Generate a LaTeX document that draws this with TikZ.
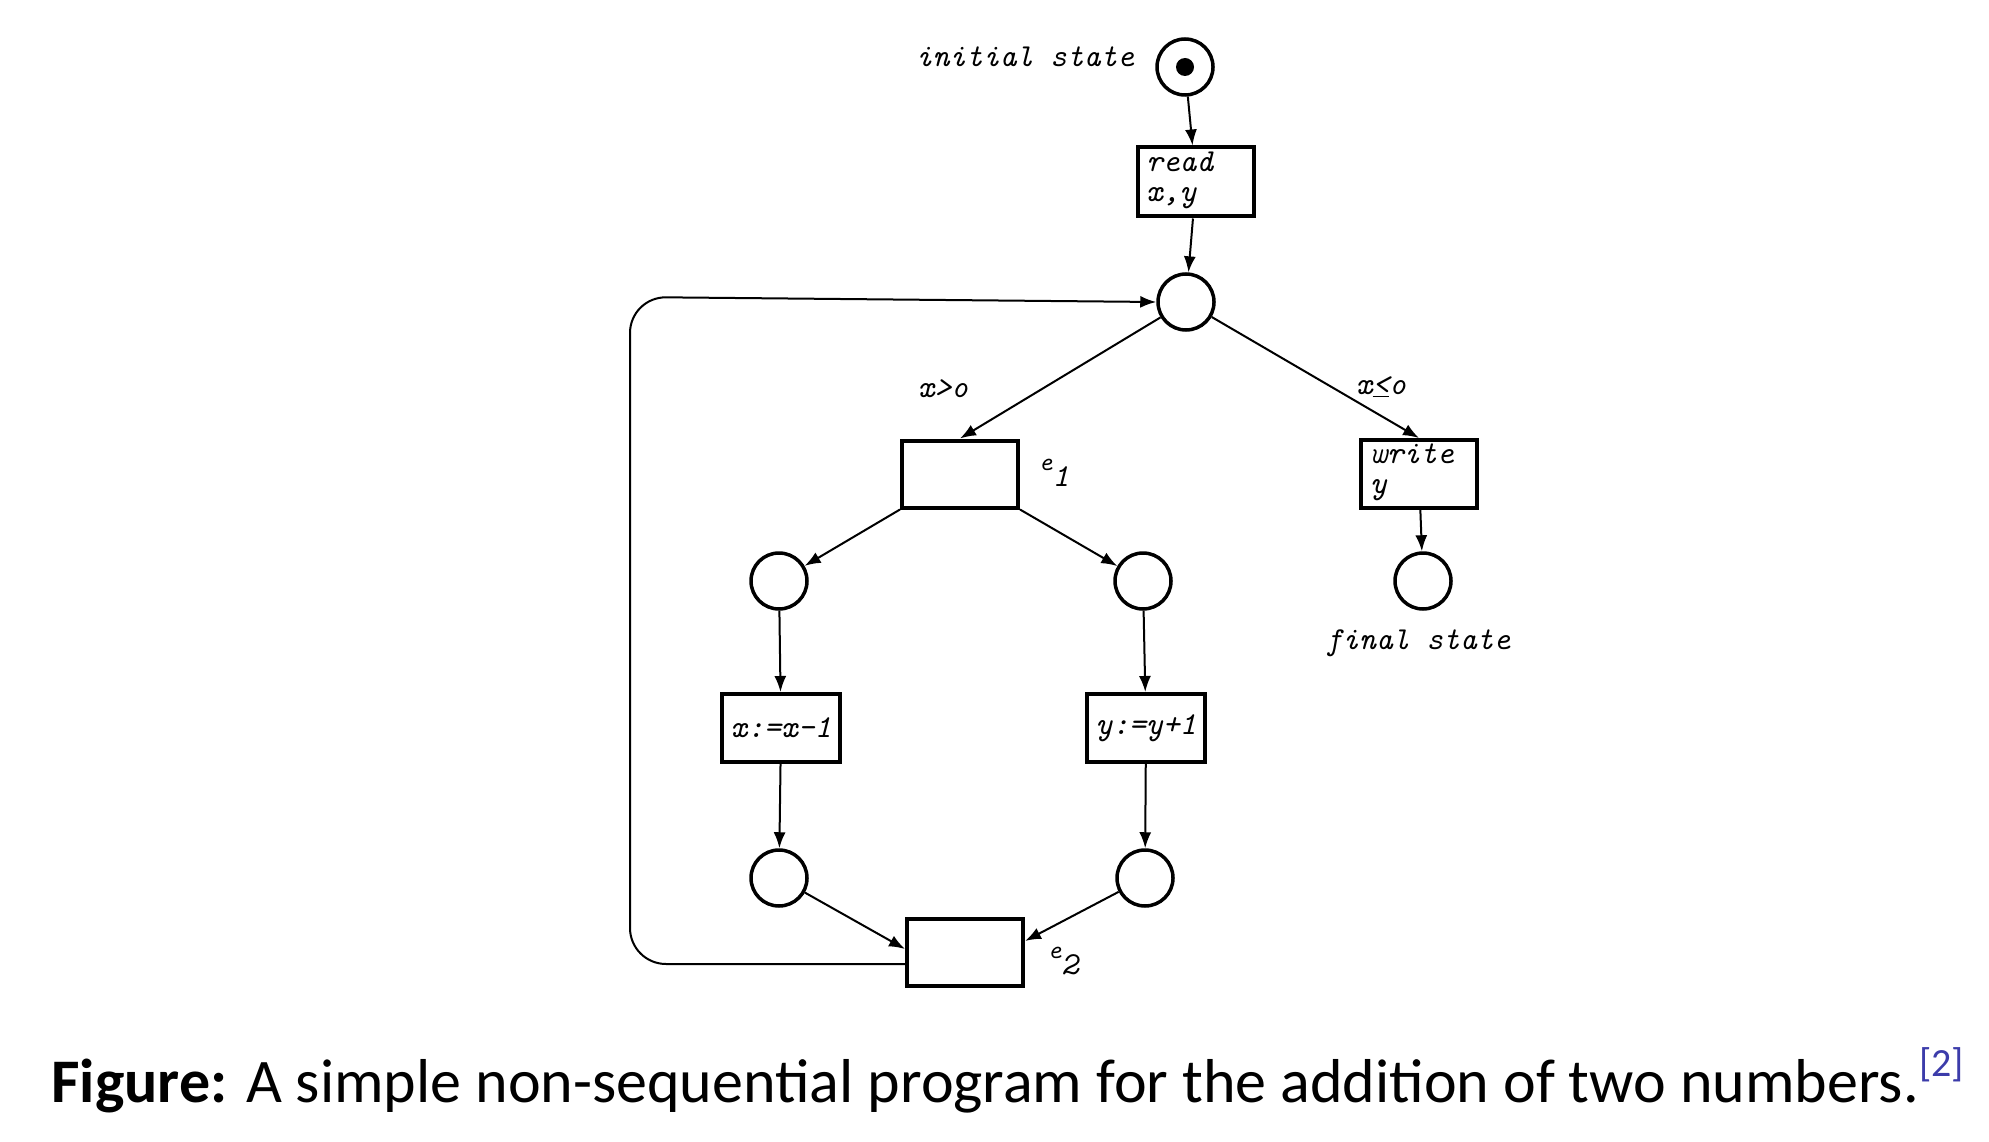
\documentclass[tikz,border=0pt]{standalone}
\usepackage{fontspec}
\newfontfamily\capfont{Carlito}
\usepackage{tikz}
\usetikzlibrary{shapes,arrows.meta}

\definecolor{refblue}{RGB}{60,60,170}

\begin{document}
\begin{tikzpicture}[x=1pt,y=-1pt,
  place/.style={draw,shape=circle,line width=3.5pt,minimum size=56pt,inner sep=0pt},
  trans/.style={draw,shape=rectangle,line width=4pt,minimum width=116pt,minimum height=67pt,inner sep=4pt},
  tt/.style={font=\fontsize{32}{34}\selectfont\ttfamily\itshape},
  >={Latex[length=16pt,width=12pt]},
  every path/.style={line width=2pt}]

\useasboundingbox (0,0) rectangle (1989,1142);

\node (InitialState) at (1185,67) [place]{};
\fill (InitialState) circle (9pt);
\node (InitialLabel) at (1025,57) [tt]{initial state};
\node (ReadXY) at (1196,182) [trans,tt,align=left,text width=100pt,minimum height=69pt]{read\\[-4pt]x,y\strut};
\node (Branch) at (1186,302) [place]{};
\node (EventOne) at (960,474) [trans]{};
\node (EventOneLabel) at (1054,473) [tt]{\fontsize{26}{26}\selectfont e\raisebox{-16pt}{\fontsize{32}{34}\selectfont 1}};
\node (WriteY) at (1419,474) [trans,tt,align=left,text width=98pt]{write\\[-4pt]y\strut};
\node (FinalState) at (1423,581) [place]{};
\node (FinalLabel) at (1418,643) [tt]{final state};
\node (Pos) at (943,389) [tt]{x>o};
\node (NonPos) at (1381,387) [tt]{x\underline{<}o};

\node (LeftIn) at (779,581) [place]{};
\node (RightIn) at (1143,581) [place]{};
\node (DecX) at (781,728) [trans,tt,minimum width=118pt,minimum height=68pt,inner sep=0pt]{x:=x-1};
\node (IncY) at (1146,728) [trans,tt,minimum width=118pt,minimum height=68pt,inner sep=0pt]{y:=y+1};
\node (LeftOut) at (779,878) [place]{};
\node (RightOut) at (1145,878) [place]{};
\node (EventTwo) at (965,952) [trans]{};
\node (EventTwoLabel) at (1063,961) [tt]{\fontsize{26}{26}\selectfont e\raisebox{-16pt}{\fontsize{32}{34}\selectfont 2}};

\draw [->] (InitialState) -- (ReadXY);
\draw [->] (ReadXY) -- (Branch);
\draw [->] (Branch) -- (EventOne.north);
\draw [->] (Branch) -- (WriteY.north);
\draw [->] (WriteY) -- (FinalState);

\draw [->] (EventOne.south west) -- (LeftIn);
\draw [->] (EventOne.south east) -- (RightIn);
\draw [->] (LeftIn) -- (DecX);
\draw [->] (RightIn) -- (IncY);
\draw [->] (DecX) -- (LeftOut);
\draw [->] (IncY) -- (RightOut);
\draw [->] (LeftOut) -- ([yshift=3pt]EventTwo.west);
\draw [->] (RightOut) -- ([yshift=11pt]EventTwo.east);

\draw [->,rounded corners=36pt] ([yshift=-12pt]EventTwo.west) -| (630,297) -- (Branch.west);

\node (Caption) at (47,1102) [anchor=base west,font=\fontsize{62}{70}\selectfont\capfont]{\textbf{Figure:} A simple non-sequential program for the addition of two numbers.\raisebox{26pt}{\fontsize{40}{40}\selectfont\color{refblue}[2]}};

\end{tikzpicture}
\end{document}
